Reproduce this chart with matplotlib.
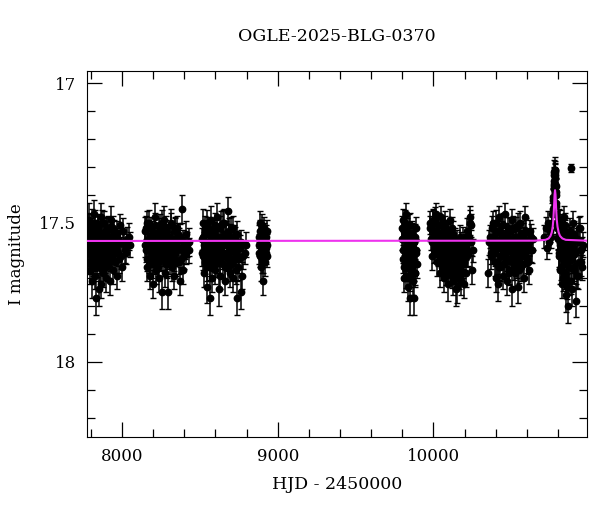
import matplotlib
matplotlib.use('Agg')
import matplotlib.pyplot as plt
from matplotlib.ticker import MultipleLocator

plt.rcParams['font.family'] = ['DejaVu Serif']

# %%
# photometry, read off the picture season by season
# (t*, m*, e*: points that stand out; t*c, m*c: the dense core of each season)
t1 = [7779, 7783, 7787, 7790, 7794, 7798, 7801, 7805, 7808, 7812,
      7816, 7819, 7823, 7827, 7831, 7834, 7838, 7842, 7846, 7850,
      7854, 7858, 7862, 7866, 7871, 7875, 7879, 7884, 7888, 7893,
      7897, 7902, 7907, 7912, 7917, 7922, 7928, 7933, 7939, 7945,
      7951, 7958, 7965, 7973, 7981, 7990, 8000, 8012, 8026, 8042]
m1 = [17.58, 17.52, 17.64, 17.49, 17.67, 17.55, 17.61, 17.71, 17.50, 17.57,
      17.64, 17.47, 17.60, 17.69, 17.53, 17.77, 17.56, 17.62, 17.51, 17.74,
      17.59, 17.66, 17.48, 17.72, 17.54, 17.61, 17.68, 17.50, 17.57, 17.63,
      17.70, 17.52, 17.59, 17.65, 17.55, 17.71, 17.49, 17.62, 17.58, 17.67,
      17.53, 17.60, 17.69, 17.56, 17.63, 17.51, 17.66, 17.58, 17.61, 17.55]
e1 = [0.04, 0.05, 0.04, 0.06, 0.05, 0.04, 0.04, 0.06, 0.05, 0.04,
      0.05, 0.05, 0.04, 0.05, 0.04, 0.06, 0.04, 0.05, 0.04, 0.06,
      0.04, 0.05, 0.05, 0.05, 0.04, 0.04, 0.05, 0.04, 0.04, 0.05,
      0.05, 0.04, 0.04, 0.05, 0.04, 0.05, 0.05, 0.04, 0.04, 0.05,
      0.04, 0.04, 0.05, 0.04, 0.05, 0.04, 0.05, 0.04, 0.04, 0.05]
t1c = [7781, 7785, 7789, 7792, 7796, 7799, 7803, 7806, 7810, 7814,
       7817, 7821, 7825, 7829, 7832, 7836, 7840, 7844, 7848, 7852,
       7856, 7860, 7864, 7868, 7873, 7877, 7881, 7886, 7890, 7895,
       7899, 7904, 7909, 7914, 7919, 7925, 7930, 7936, 7942, 7948,
       7954, 7961, 7968, 7976, 7984, 7994, 8005, 8018, 8033, 8050]
m1c = [17.54, 17.61, 17.57, 17.64, 17.51, 17.59, 17.56, 17.62, 17.53, 17.66,
       17.58, 17.55, 17.63, 17.50, 17.60, 17.57, 17.65, 17.52, 17.59, 17.62,
       17.54, 17.61, 17.57, 17.63, 17.50, 17.58, 17.55, 17.64, 17.60, 17.53,
       17.66, 17.57, 17.52, 17.61, 17.58, 17.63, 17.55, 17.60, 17.52, 17.57,
       17.64, 17.59, 17.54, 17.61, 17.57, 17.62, 17.53, 17.60, 17.56, 17.58]

t2 = [8146, 8152, 8158, 8163, 8168, 8173, 8178, 8183, 8188, 8193,
      8198, 8203, 8208, 8213, 8218, 8223, 8228, 8233, 8238, 8243,
      8248, 8253, 8258, 8263, 8268, 8273, 8278, 8283, 8288, 8293,
      8298, 8303, 8308, 8313, 8318, 8323, 8328, 8334, 8340, 8346,
      8352, 8358, 8364, 8371, 8378, 8386, 8394, 8403, 8414, 8428]
m2 = [17.53, 17.60, 17.66, 17.50, 17.57, 17.63, 17.69, 17.52, 17.59, 17.65,
      17.72, 17.55, 17.61, 17.48, 17.67, 17.58, 17.54, 17.64, 17.70, 17.51,
      17.60, 17.56, 17.75, 17.62, 17.49, 17.68, 17.57, 17.53, 17.65, 17.61,
      17.75, 17.55, 17.59, 17.50, 17.66, 17.62, 17.57, 17.69, 17.52, 17.64,
      17.60, 17.54, 17.56, 17.71, 17.63, 17.45, 17.67, 17.59, 17.61, 17.57]
e2 = [0.05, 0.04, 0.05, 0.04, 0.04, 0.05, 0.05, 0.04, 0.04, 0.05,
      0.05, 0.04, 0.04, 0.05, 0.05, 0.04, 0.04, 0.05, 0.05, 0.04,
      0.04, 0.04, 0.06, 0.05, 0.05, 0.05, 0.04, 0.04, 0.05, 0.04,
      0.06, 0.04, 0.04, 0.05, 0.05, 0.04, 0.04, 0.05, 0.04, 0.05,
      0.04, 0.04, 0.04, 0.05, 0.05, 0.05, 0.05, 0.04, 0.04, 0.05]
t2c = [8149, 8155, 8160, 8165, 8170, 8175, 8180, 8185, 8190, 8195,
       8200, 8205, 8210, 8215, 8220, 8225, 8230, 8235, 8240, 8245,
       8250, 8255, 8260, 8265, 8270, 8275, 8280, 8285, 8290, 8295,
       8300, 8305, 8310, 8315, 8320, 8325, 8331, 8337, 8343, 8349,
       8355, 8361, 8367, 8374, 8382, 8390, 8398, 8408, 8420, 8432]
m2c = [17.58, 17.52, 17.63, 17.56, 17.60, 17.50, 17.65, 17.57, 17.54, 17.61,
       17.59, 17.64, 17.51, 17.57, 17.62, 17.55, 17.66, 17.53, 17.60, 17.58,
       17.63, 17.50, 17.56, 17.61, 17.54, 17.59, 17.65, 17.52, 17.57, 17.62,
       17.55, 17.60, 17.64, 17.51, 17.58, 17.56, 17.63, 17.53, 17.61, 17.57,
       17.52, 17.59, 17.64, 17.55, 17.60, 17.57, 17.62, 17.54, 17.58, 17.60]

t3 = [8511, 8517, 8523, 8528, 8533, 8538, 8543, 8548, 8553, 8558,
      8563, 8568, 8573, 8578, 8583, 8588, 8593, 8598, 8603, 8608,
      8613, 8618, 8623, 8628, 8633, 8638, 8643, 8648, 8653, 8658,
      8663, 8668, 8673, 8678, 8683, 8688, 8693, 8698, 8703, 8708,
      8713, 8718, 8724, 8730, 8737, 8744, 8752, 8761, 8772, 8788]
m3 = [17.56, 17.62, 17.50, 17.68, 17.54, 17.60, 17.66, 17.73, 17.52, 17.58,
      17.77, 17.64, 17.49, 17.70, 17.56, 17.61, 17.53, 17.67, 17.59, 17.48,
      17.63, 17.55, 17.74, 17.69, 17.51, 17.60, 17.57, 17.65, 17.50, 17.62,
      17.71, 17.54, 17.58, 17.66, 17.46, 17.61, 17.68, 17.52, 17.57, 17.64,
      17.70, 17.55, 17.60, 17.67, 17.77, 17.58, 17.63, 17.75, 17.69, 17.61]
e3 = [0.04, 0.05, 0.05, 0.05, 0.04, 0.04, 0.05, 0.06, 0.04, 0.04,
      0.06, 0.05, 0.05, 0.05, 0.04, 0.04, 0.04, 0.05, 0.04, 0.05,
      0.05, 0.04, 0.06, 0.05, 0.05, 0.04, 0.04, 0.05, 0.05, 0.04,
      0.05, 0.04, 0.04, 0.05, 0.05, 0.04, 0.05, 0.04, 0.04, 0.05,
      0.05, 0.04, 0.04, 0.05, 0.06, 0.04, 0.05, 0.06, 0.05, 0.04]
t3c = [8514, 8520, 8526, 8531, 8536, 8541, 8546, 8551, 8556, 8561,
       8566, 8571, 8576, 8581, 8586, 8591, 8596, 8601, 8606, 8611,
       8616, 8621, 8626, 8631, 8636, 8641, 8646, 8651, 8656, 8661,
       8666, 8671, 8676, 8681, 8686, 8691, 8696, 8701, 8706, 8711,
       8716, 8721, 8727, 8734, 8741, 8748, 8757, 8766, 8780, 8795]
m3c = [17.61, 17.55, 17.58, 17.52, 17.64, 17.57, 17.50, 17.62, 17.59, 17.54,
       17.66, 17.56, 17.60, 17.53, 17.63, 17.58, 17.51, 17.65, 17.57, 17.61,
       17.55, 17.59, 17.64, 17.52, 17.60, 17.56, 17.62, 17.50, 17.58, 17.66,
       17.54, 17.61, 17.57, 17.63, 17.53, 17.59, 17.55, 17.65, 17.60, 17.52,
       17.58, 17.63, 17.56, 17.61, 17.54, 17.66, 17.59, 17.57, 17.62, 17.58]

t4 = [8878, 8882, 8886, 8890, 8894, 8898, 8902, 8906, 8910, 8914,
      8918, 8922, 8927, 8932]
m4 = [17.55, 17.61, 17.50, 17.66, 17.58, 17.53, 17.63, 17.71, 17.57, 17.52,
      17.64, 17.59, 17.55, 17.62]
e4 = [0.04, 0.04, 0.04, 0.05, 0.04, 0.04, 0.05, 0.05, 0.04, 0.04,
      0.05, 0.04, 0.04, 0.04]
t4c = [8880, 8884, 8888, 8892, 8896, 8900, 8904, 8908, 8912, 8916,
       8920, 8925, 8930, 8934]
m4c = [17.58, 17.53, 17.62, 17.56, 17.51, 17.60, 17.57, 17.64, 17.54, 17.59,
       17.56, 17.61, 17.53, 17.58]

t5 = [9798, 9802, 9806, 9810, 9814, 9818, 9822, 9826, 9830, 9834,
      9838, 9842, 9846, 9850, 9854, 9858, 9862, 9866, 9870, 9874,
      9878, 9882, 9886, 9890, 9893]
m5 = [17.56, 17.49, 17.63, 17.70, 17.53, 17.59, 17.66, 17.47, 17.61, 17.73,
      17.55, 17.64, 17.51, 17.77, 17.58, 17.68, 17.54, 17.62, 17.71, 17.57,
      17.77, 17.68, 17.52, 17.60, 17.65]
e5 = [0.04, 0.04, 0.05, 0.05, 0.04, 0.04, 0.05, 0.04, 0.04, 0.05,
      0.04, 0.05, 0.04, 0.06, 0.04, 0.05, 0.04, 0.04, 0.05, 0.04,
      0.06, 0.05, 0.04, 0.04, 0.05]
t5c = [9800, 9804, 9808, 9812, 9816, 9820, 9824, 9828, 9832, 9836,
       9840, 9844, 9848, 9852, 9856, 9860, 9864, 9868, 9872, 9876,
       9880, 9884, 9888]
m5c = [17.52, 17.60, 17.66, 17.55, 17.63, 17.50, 17.69, 17.58, 17.53, 17.65,
       17.61, 17.56, 17.70, 17.51, 17.62, 17.67, 17.54, 17.59, 17.64, 17.57,
       17.68, 17.55, 17.61]

t6 = [9978, 9985, 9992, 9998, 10004, 10010, 10016, 10021, 10026, 10031,
      10036, 10041, 10046, 10051, 10056, 10061, 10066, 10071, 10076, 10081,
      10086, 10091, 10096, 10101, 10106, 10111, 10116, 10121, 10126, 10131,
      10136, 10141, 10146, 10151, 10156, 10161, 10166, 10172, 10178, 10184,
      10190, 10196, 10203, 10210, 10218, 10226, 10234, 10241, 10247, 10252]
m6 = [17.50, 17.56, 17.62, 17.49, 17.53, 17.60, 17.47, 17.57, 17.64, 17.51,
      17.55, 17.68, 17.59, 17.48, 17.62, 17.53, 17.70, 17.57, 17.50, 17.65,
      17.60, 17.72, 17.54, 17.63, 17.49, 17.67, 17.58, 17.52, 17.71, 17.61,
      17.56, 17.66, 17.74, 17.73, 17.59, 17.63, 17.69, 17.55, 17.71, 17.60,
      17.65, 17.72, 17.58, 17.68, 17.62, 17.56, 17.48, 17.51, 17.67, 17.60]
e6 = [0.04, 0.04, 0.05, 0.04, 0.04, 0.04, 0.04, 0.04, 0.05, 0.04,
      0.04, 0.05, 0.04, 0.04, 0.05, 0.04, 0.05, 0.04, 0.04, 0.05,
      0.04, 0.06, 0.04, 0.05, 0.04, 0.05, 0.04, 0.04, 0.05, 0.04,
      0.04, 0.05, 0.06, 0.06, 0.04, 0.05, 0.05, 0.04, 0.05, 0.04,
      0.05, 0.05, 0.04, 0.05, 0.04, 0.04, 0.04, 0.04, 0.05, 0.04]
t6c = [9981, 9988, 9995, 10001, 10007, 10013, 10018, 10023, 10028, 10033,
       10038, 10043, 10048, 10053, 10058, 10063, 10068, 10073, 10078, 10083,
       10088, 10093, 10098, 10103, 10108, 10113, 10118, 10123, 10128, 10133,
       10138, 10143, 10148, 10153, 10158, 10163, 10169, 10175, 10181, 10187,
       10193, 10199, 10206, 10214, 10222, 10230, 10238, 10244]
m6c = [17.52, 17.57, 17.50, 17.60, 17.54, 17.49, 17.58, 17.53, 17.61, 17.56,
       17.51, 17.63, 17.57, 17.66, 17.54, 17.60, 17.64, 17.52, 17.68, 17.58,
       17.62, 17.55, 17.67, 17.60, 17.65, 17.57, 17.69, 17.62, 17.54, 17.66,
       17.60, 17.70, 17.63, 17.57, 17.67, 17.61, 17.65, 17.58, 17.68, 17.62,
       17.56, 17.64, 17.59, 17.53, 17.61, 17.55, 17.50, 17.57]

t7 = [10352, 10362, 10372, 10380, 10387, 10394, 10400, 10406, 10412, 10417,
      10422, 10427, 10432, 10437, 10442, 10447, 10452, 10457, 10462, 10467,
      10472, 10477, 10482, 10487, 10492, 10497, 10502, 10507, 10512, 10517,
      10522, 10527, 10532, 10537, 10542, 10547, 10552, 10557, 10562, 10567,
      10573, 10579, 10585, 10591, 10598, 10605, 10612, 10620, 10629, 10638]
m7 = [17.68, 17.55, 17.61, 17.50, 17.57, 17.64, 17.70, 17.53, 17.72, 17.59,
      17.48, 17.66, 17.56, 17.62, 17.51, 17.69, 17.58, 17.47, 17.64, 17.54,
      17.71, 17.60, 17.52, 17.67, 17.57, 17.63, 17.74, 17.49, 17.61, 17.55,
      17.68, 17.58, 17.52, 17.65, 17.73, 17.60, 17.56, 17.50, 17.66, 17.62,
      17.54, 17.70, 17.58, 17.48, 17.63, 17.57, 17.67, 17.53, 17.60, 17.56]
e7 = [0.05, 0.04, 0.04, 0.04, 0.04, 0.05, 0.05, 0.04, 0.06, 0.04,
      0.04, 0.05, 0.04, 0.04, 0.04, 0.05, 0.04, 0.04, 0.05, 0.04,
      0.05, 0.04, 0.04, 0.05, 0.04, 0.05, 0.06, 0.04, 0.04, 0.04,
      0.05, 0.04, 0.04, 0.05, 0.06, 0.04, 0.04, 0.04, 0.05, 0.04,
      0.04, 0.05, 0.04, 0.04, 0.05, 0.04, 0.05, 0.04, 0.04, 0.04]
t7c = [10357, 10367, 10376, 10384, 10391, 10397, 10403, 10409, 10414, 10419,
       10424, 10429, 10434, 10439, 10444, 10449, 10454, 10459, 10464, 10469,
       10474, 10479, 10484, 10489, 10494, 10499, 10504, 10509, 10514, 10519,
       10524, 10529, 10534, 10539, 10544, 10549, 10554, 10559, 10564, 10570,
       10576, 10582, 10588, 10594, 10601, 10608, 10616, 10624, 10633]
m7c = [17.57, 17.62, 17.52, 17.59, 17.55, 17.61, 17.50, 17.64, 17.57, 17.53,
       17.66, 17.58, 17.62, 17.54, 17.60, 17.51, 17.65, 17.57, 17.61, 17.55,
       17.63, 17.59, 17.68, 17.53, 17.60, 17.56, 17.64, 17.58, 17.52, 17.66,
       17.61, 17.55, 17.63, 17.59, 17.51, 17.67, 17.57, 17.62, 17.54, 17.60,
       17.65, 17.56, 17.61, 17.53, 17.59, 17.64, 17.57, 17.55, 17.60]

t8 = [10708, 10722, 10731, 10738, 10745, 10751, 10756, 10760, 10764, 10767,
      10770, 10772, 10774, 10776, 10778, 10780, 10782, 10784, 10786, 10788,
      10790, 10793, 10796, 10800, 10804, 10808, 10812, 10816, 10820, 10824,
      10828, 10832, 10836, 10840, 10844, 10848, 10852, 10856, 10860, 10864,
      10868, 10872, 10876, 10884, 10888, 10893, 10898, 10904, 10910, 10917,
      10924, 10931, 10938, 10945, 10952]
m8 = [17.55, 17.52, 17.59, 17.50, 17.57, 17.53, 17.55, 17.50, 17.47, 17.45,
      17.41, 17.38, 17.36, 17.33, 17.31, 17.32, 17.34, 17.37, 17.40, 17.44,
      17.47, 17.50, 17.52, 17.56, 17.49, 17.61, 17.54, 17.67, 17.51, 17.58,
      17.72, 17.63, 17.48, 17.57, 17.69, 17.53, 17.76, 17.60, 17.65, 17.80,
      17.55, 17.71, 17.62, 17.305, 17.58, 17.74, 17.50, 17.66, 17.61, 17.78,
      17.56, 17.69, 17.52, 17.64, 17.59]
e8 = [0.04, 0.04, 0.04, 0.04, 0.04, 0.04, 0.04, 0.04, 0.04, 0.03,
      0.03, 0.03, 0.03, 0.03, 0.03, 0.03, 0.03, 0.03, 0.03, 0.03,
      0.03, 0.04, 0.04, 0.04, 0.04, 0.05, 0.04, 0.05, 0.04, 0.04,
      0.05, 0.05, 0.04, 0.04, 0.05, 0.04, 0.06, 0.04, 0.05, 0.06,
      0.04, 0.05, 0.04, 0.015, 0.04, 0.06, 0.04, 0.05, 0.04, 0.06,
      0.04, 0.05, 0.04, 0.05, 0.04]
t8c = [10771, 10773, 10775, 10777, 10779, 10781, 10783, 10785, 10787,
       10802, 10806, 10810, 10814, 10818, 10822, 10826, 10830, 10834, 10838,
       10842, 10846, 10850, 10854, 10858, 10862, 10866, 10870, 10874, 10878,
       10882, 10886, 10890, 10895, 10900, 10906, 10912, 10919, 10926, 10933,
       10940, 10947, 10955, 10962]
m8c = [17.42, 17.37, 17.35, 17.32, 17.33, 17.31, 17.36, 17.39, 17.43,
       17.55, 17.62, 17.50, 17.58, 17.66, 17.53, 17.61, 17.70, 17.57, 17.64,
       17.51, 17.68, 17.59, 17.55, 17.73, 17.62, 17.57, 17.66, 17.53, 17.60,
       17.71, 17.56, 17.63, 17.59, 17.67, 17.54, 17.61, 17.69, 17.57, 17.64,
       17.52, 17.60, 17.66, 17.58]

# typical error bar of the dense core, one per season
e_core = [0.045, 0.045, 0.045, 0.04, 0.045, 0.045, 0.045, 0.045]

# model curve (baseline + single-lens peak)
t_mod = [7775, 10650, 10720, 10740, 10752, 10760, 10766, 10770, 10774, 10778,
         10781, 10784, 10788, 10792, 10797, 10804, 10813, 10828, 10850, 10985]
m_mod = [17.566, 17.565, 17.562, 17.557, 17.548, 17.535, 17.515, 17.49, 17.45, 17.40,
         17.384, 17.40, 17.45, 17.49, 17.515, 17.535, 17.548, 17.557, 17.562, 17.565]

# %%
fig = plt.figure(figsize=(6.0, 5.12), dpi=100)
ax = fig.add_axes([0.145, 0.146, 0.833, 0.715])

seasons = [(t1, m1, e1), (t2, m2, e2), (t3, m3, e3), (t4, m4, e4),
           (t5, m5, e5), (t6, m6, e6), (t7, m7, e7), (t8, m8, e8)]
cores = [(t1c, m1c), (t2c, m2c), (t3c, m3c), (t4c, m4c),
         (t5c, m5c), (t6c, m6c), (t7c, m7c), (t8c, m8c)]

style = dict(fmt='o', color='black', ms=4.6, ecolor='black',
             elinewidth=1.1, capsize=2.5, capthick=1.0, zorder=2)
for (t, m), err in zip(cores, e_core):
    ax.errorbar(t, m, yerr=err, **style)
for t, m, e in seasons:
    ax.errorbar(t, m, yerr=e, **style)

ax.plot(t_mod, m_mod, color='#ee33ee', lw=1.5, zorder=3)

ax.set_xlim(7775, 10985)
ax.set_ylim(18.27, 16.957)

ax.xaxis.set_major_locator(MultipleLocator(1000))
ax.xaxis.set_minor_locator(MultipleLocator(200))
ax.yaxis.set_major_locator(MultipleLocator(0.5))
ax.yaxis.set_minor_locator(MultipleLocator(0.1))
ax.tick_params(which='both', direction='in', top=True, right=True,
               labelsize=12, width=0.9)
ax.tick_params(which='major', length=11, pad=8)
ax.tick_params(which='minor', length=6)
ax.yaxis.set_major_formatter(plt.FuncFormatter(lambda v, p: f'{v:g}'))

ax.set_xlabel('HJD - 2450000', fontsize=12.5, labelpad=8)
ax.set_ylabel('I magnitude', fontsize=12, labelpad=10)
ax.set_title('OGLE-2025-BLG-0370', fontsize=12.5, pad=22)

fig.savefig('out.png', dpi=100)
